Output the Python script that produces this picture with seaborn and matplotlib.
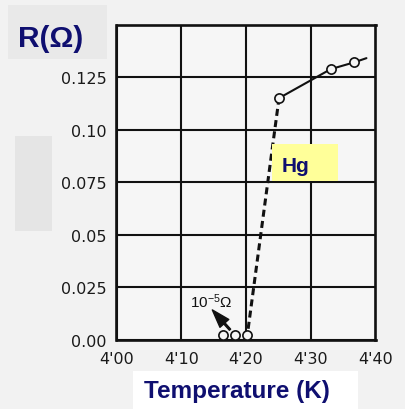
import matplotlib
matplotlib.use("Agg")
import matplotlib.pyplot as plt
from matplotlib.patches import Rectangle
from matplotlib.transforms import ScaledTranslation
import seaborn as sns

# Resistance of mercury around its superconducting transition
temp_normal = [4.251, 4.331, 4.367]          # K, measured points above the transition
res_normal = [0.115, 0.1288, 0.132]          # ohm
curve_end_temp = 4.386                       # solid curve continues a little past the last point
curve_end_res = 0.134
temp_super = [4.165, 4.183, 4.201]           # K, points below the transition
res_super = [1e-5, 1e-5, 1e-5]               # ohm (10^-5 ohm)

x_ticks = [4.0, 4.1, 4.2, 4.3, 4.4]
x_labels = ["4'00", "4'10", "4'20", "4'30", "4'40"]
y_ticks = [0.0, 0.025, 0.05, 0.075, 0.10, 0.125]
y_labels = ["0.00", "0.025", "0.05", "0.075", "0.10", "0.125"]

sns.set_style("white")
plt.rcParams["font.family"] = ["DejaVu Sans"]
plt.rcParams["mathtext.fontset"] = "custom"
plt.rcParams["mathtext.rm"] = "Liberation Sans"
plt.rcParams["mathtext.it"] = "Liberation Sans"

W, H = 406, 410
fig = plt.figure(figsize=(W / 100, H / 100), dpi=100, facecolor="#f2f2f2")


def fx(px):
    return px / W


def fy(py):
    return 1 - py / H


def fig_box(x0, y0, x1, y1, color):
    fig.patches.append(Rectangle((fx(x0), fy(y1)), fx(x1) - fx(x0), fy(y0) - fy(y1),
                                 transform=fig.transFigure, facecolor=color,
                                 edgecolor="none", zorder=0))


# decorative panels behind the titles
fig_box(8, 6, 107, 60, "#e9e9e9")
fig_box(15, 137, 52, 232, "#e5e5e5")
fig_box(133, 372, 358, 410, "white")

ax_l, ax_r, ax_t, ax_b = 116.5, 375.5, 25.5, 341
ax = fig.add_axes([fx(ax_l), fy(ax_b), fx(ax_r) - fx(ax_l), fy(ax_t) - fy(ax_b)])
ax.set_facecolor("#f6f6f6")

navy = "#0f0f70"
ink = "#111111"

# solid curve through the normal-state points
sns.lineplot(x=temp_normal + [curve_end_temp], y=res_normal + [curve_end_res],
             color=ink, lw=1.5, ax=ax, zorder=3)
# dashed drop between the two regimes
sns.lineplot(x=[temp_super[-1], temp_normal[0]], y=[res_super[-1], res_normal[0]],
             color=ink, lw=2.2, dashes=False, ax=ax, zorder=3)
ax.lines[-1].set_linestyle((0, (2.3, 1.4)))

sns.scatterplot(x=temp_normal, y=res_normal, s=44, ax=ax, zorder=5)
hi = ax.collections[-1]
sns.scatterplot(x=temp_super, y=res_super, s=44, ax=ax, zorder=5)
lo = ax.collections[-1]
for coll in (hi, lo):
    coll.set_facecolor("#f6f6f6")
    coll.set_edgecolor(ink)
    coll.set_linewidth(1.2)
# the low points rest on the axis line
lo.set_offset_transform(ax.transData + ScaledTranslation(0, 4.5 / 100, fig.dpi_scale_trans))

ax.set_xlim(4.0, 4.4)
ax.set_ylim(0, 0.15)
ax.set_xticks(x_ticks)
ax.set_xticklabels(x_labels)
ax.set_yticks(y_ticks)
ax.set_yticklabels(y_labels)
ax.tick_params(axis="both", length=0, labelsize=11.5, labelcolor="#1a1a1a")
ax.tick_params(axis="y", pad=7)
ax.tick_params(axis="x", pad=8)
ax.grid(True, color=ink, lw=1.5)
ax.set_axisbelow(True)
for sp in ax.spines.values():
    sp.set_visible(True)
    sp.set_color(ink)
    sp.set_linewidth(1.9)
ax.set_xlabel("")
ax.set_ylabel("")

# annotation for the superconducting points
ax.annotate("", xy=(4.148, 0.0143), xytext=(4.1753, 0.0049),
            arrowprops=dict(facecolor=ink, edgecolor=ink, width=1.2, headwidth=8.5,
                            headlength=13, shrink=0), zorder=4)
ax.text(4.147, 0.0188, r"10$^{-5}$Ω", fontsize=11, family="Liberation Sans",
        color=ink, ha="center", va="center", zorder=4)

# element label
fig_box(271.7, 145, 338, 182, "#ffff99")
fig.patches[-1].set_zorder(10)
fig.text(fx(281.5), fy(172), "Hg", fontsize=15, fontweight="bold",
         family="Liberation Sans", color=navy, ha="left", va="baseline", zorder=11)

# axis titles
fig.text(fx(18), fy(47), "R(Ω)", fontsize=21.5, fontweight="bold",
         family="Liberation Sans", color=navy, ha="left", va="baseline")
fig.text(fx(237), fy(398), "Temperature (K)", fontsize=17.5, fontweight="bold",
         family="Liberation Sans", color=navy, ha="center", va="baseline")

fig.savefig("out.png", dpi=100, facecolor=fig.get_facecolor())
